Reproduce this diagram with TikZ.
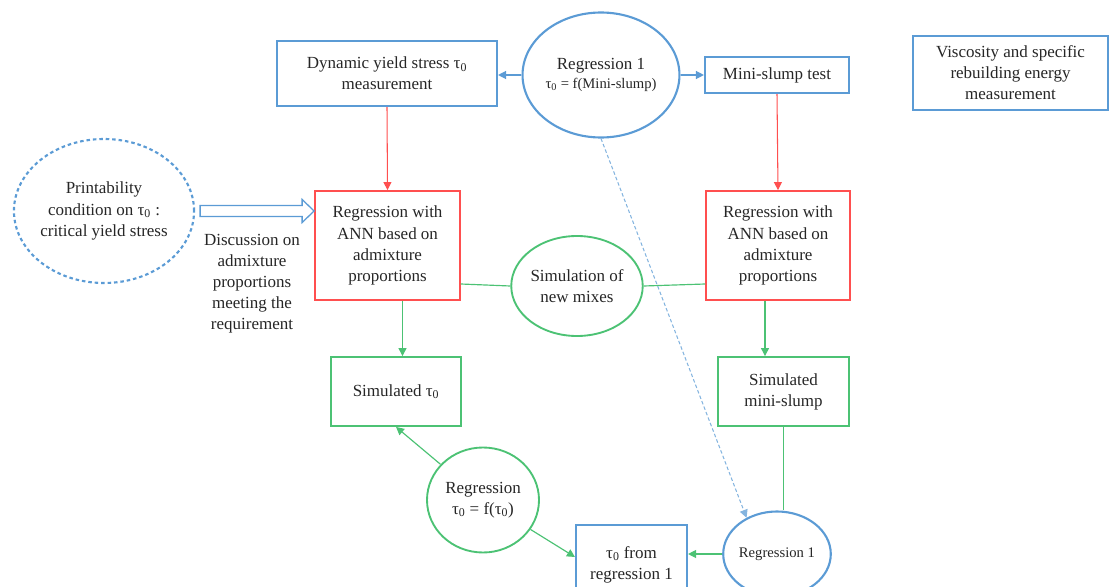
\documentclass[tikz,border=0pt]{standalone}
\usepackage{fontspec}
\setmainfont{Liberation Serif}
\usetikzlibrary{shapes.geometric,arrows.meta,calc}
\definecolor{flowblue}{HTML}{5B9BD5}
\definecolor{flowred}{HTML}{FF4F4F}
\definecolor{flowgreen}{HTML}{4CC274}
\newcommand{\tauz}{τ\textsubscript{0}}

\begin{document}
\begin{tikzpicture}[x=0.03cm, y=-0.03cm,
        every node/.style={font=\fontsize{14.5}{18}\selectfont, text=black!85, align=center, inner sep=0pt},
        bluebox/.style={draw=flowblue, line width=1.8pt},
        redbox/.style={draw=flowred, line width=1.6pt},
        greenbox/.style={draw=flowgreen, line width=1.6pt},
        blueround/.style={ellipse, draw=flowblue, line width=1.8pt},
        greenround/.style={ellipse, draw=flowgreen, line width=1.6pt},
        tip/.style={-{Triangle[length=2.4mm,width=2.4mm]}},
        blueline/.style={draw=flowblue, line width=1.1pt},
        redline/.style={draw=flowred, line width=0.9pt},
        greenline/.style={draw=flowgreen, line width=1pt}]
        \useasboundingbox (0,0) rectangle (1110,587);
        \clip (0,0) rectangle (1110,587);

        % top row
        \node[bluebox, minimum width=6.6cm, minimum height=1.95cm] (dyn) at (387,73.5)
            {Dynamic yield stress \tauz\\measurement};
        \node[blueround, minimum width=3.96cm, minimum height=3.75cm] (reg1) at (601,75)
            {Regression 1\\[-2pt]{\fontsize{12.5}{15}\selectfont\tauz{} = f(Mini-slump)}};
        \node[bluebox, minimum width=4.32cm, minimum height=1.08cm] (mini) at (777,75) {Mini-slump test};
        \node[bluebox, minimum width=5.85cm, minimum height=2.22cm] (visc) at (1010.5,73)
            {Viscosity and specific\\rebuilding energy\\measurement};

        % middle row
        \node[blueround, dash pattern=on 3pt off 2.5pt, minimum width=5.16cm, minimum height=4.32cm] (print) at (104,211)
            {Printability\\condition on \tauz{} :\\critical yield stress};
        \node (discuss) at (252,284)
            {Discussion on\\admixture\\proportions\\meeting the\\requirement};
        \node[redbox, minimum width=4.35cm, minimum height=3.27cm] (ann1) at (387.5,245.5)
            {Regression with\\ANN based on\\admixture\\proportions};
        \node[redbox, minimum width=4.32cm, minimum height=3.27cm] (ann2) at (778,245.5)
            {Regression with\\ANN based on\\admixture\\proportions};
        \node[greenround, minimum width=3.93cm, minimum height=3cm] (sim) at (577,286)
            {Simulation of\\new mixes};

        % bottom rows
        \node[greenbox, minimum width=3.9cm, minimum height=2.07cm] (simtau) at (396,391.5) {Simulated \tauz};
        \node[greenbox, minimum width=3.93cm, minimum height=2.07cm] (simslump) at (783.5,391.5)
            {Simulated\\mini-slump};
        \node[greenround, minimum width=3.36cm, minimum height=3.15cm] (regtau) at (483,500)
            {Regression\\\tauz{} = f(\tauz)};
        \node[bluebox, minimum width=3.33cm, minimum height=2.37cm] (tau1) at (631.5,564.5)
            {\tauz{} from\\regression 1};
        \node[blueround, minimum width=2.55cm, minimum height=2.55cm] (reg1b) at (777,554)
            {\fontsize{12.5}{15}\selectfont Regression 1};

        % connectors
        \draw[blueline, tip] (reg1.west) -- (reg1.west -| dyn.east);
        \draw[blueline, tip] (reg1.east) -- (reg1.east -| mini.west);
        \draw[redline, tip] (dyn.south) -- (ann1.north);
        \draw[redline, tip] (mini.south) -- (ann2.north);
        \draw[blueline, line width=1.1pt, fill=white] ($(print.east)+(5,-5.5)$) -- ++(102,0) -- ++(0,-6)
            -- ++(12,11.5) -- ++(-12,11.5) -- ++(0,-6) -- ++(-102,0) -- cycle;
        \draw[greenline] ([yshift=-1.155cm]ann1.east) -- (sim.west);
        \draw[greenline] (sim.east) -- ([yshift=-1.155cm]ann2.west);
        \draw[greenline, tip] ([xshift=0.45cm]ann1.south) -- ([xshift=0.45cm]ann1.south |- simtau.north);
        \draw[greenline, tip] ([xshift=-0.39cm]ann2.south) -- ([xshift=-0.39cm]ann2.south |- simslump.north);
        \draw[greenline, tip] (regtau) -- (simtau.south);
        \draw[greenline, tip] (regtau) -- ([yshift=0.225cm]tau1.west);
        \draw[greenline] (simslump.south) -- (simslump.south |- reg1b.north);
        \draw[greenline, tip] (reg1b.west) -- (reg1b.west -| tau1.east);
        \draw[blueline, draw=flowblue!75, line width=0.9pt, dash pattern=on 3pt off 2pt, tip] (reg1.south) -- (reg1b.130);
\end{tikzpicture}
\end{document}
